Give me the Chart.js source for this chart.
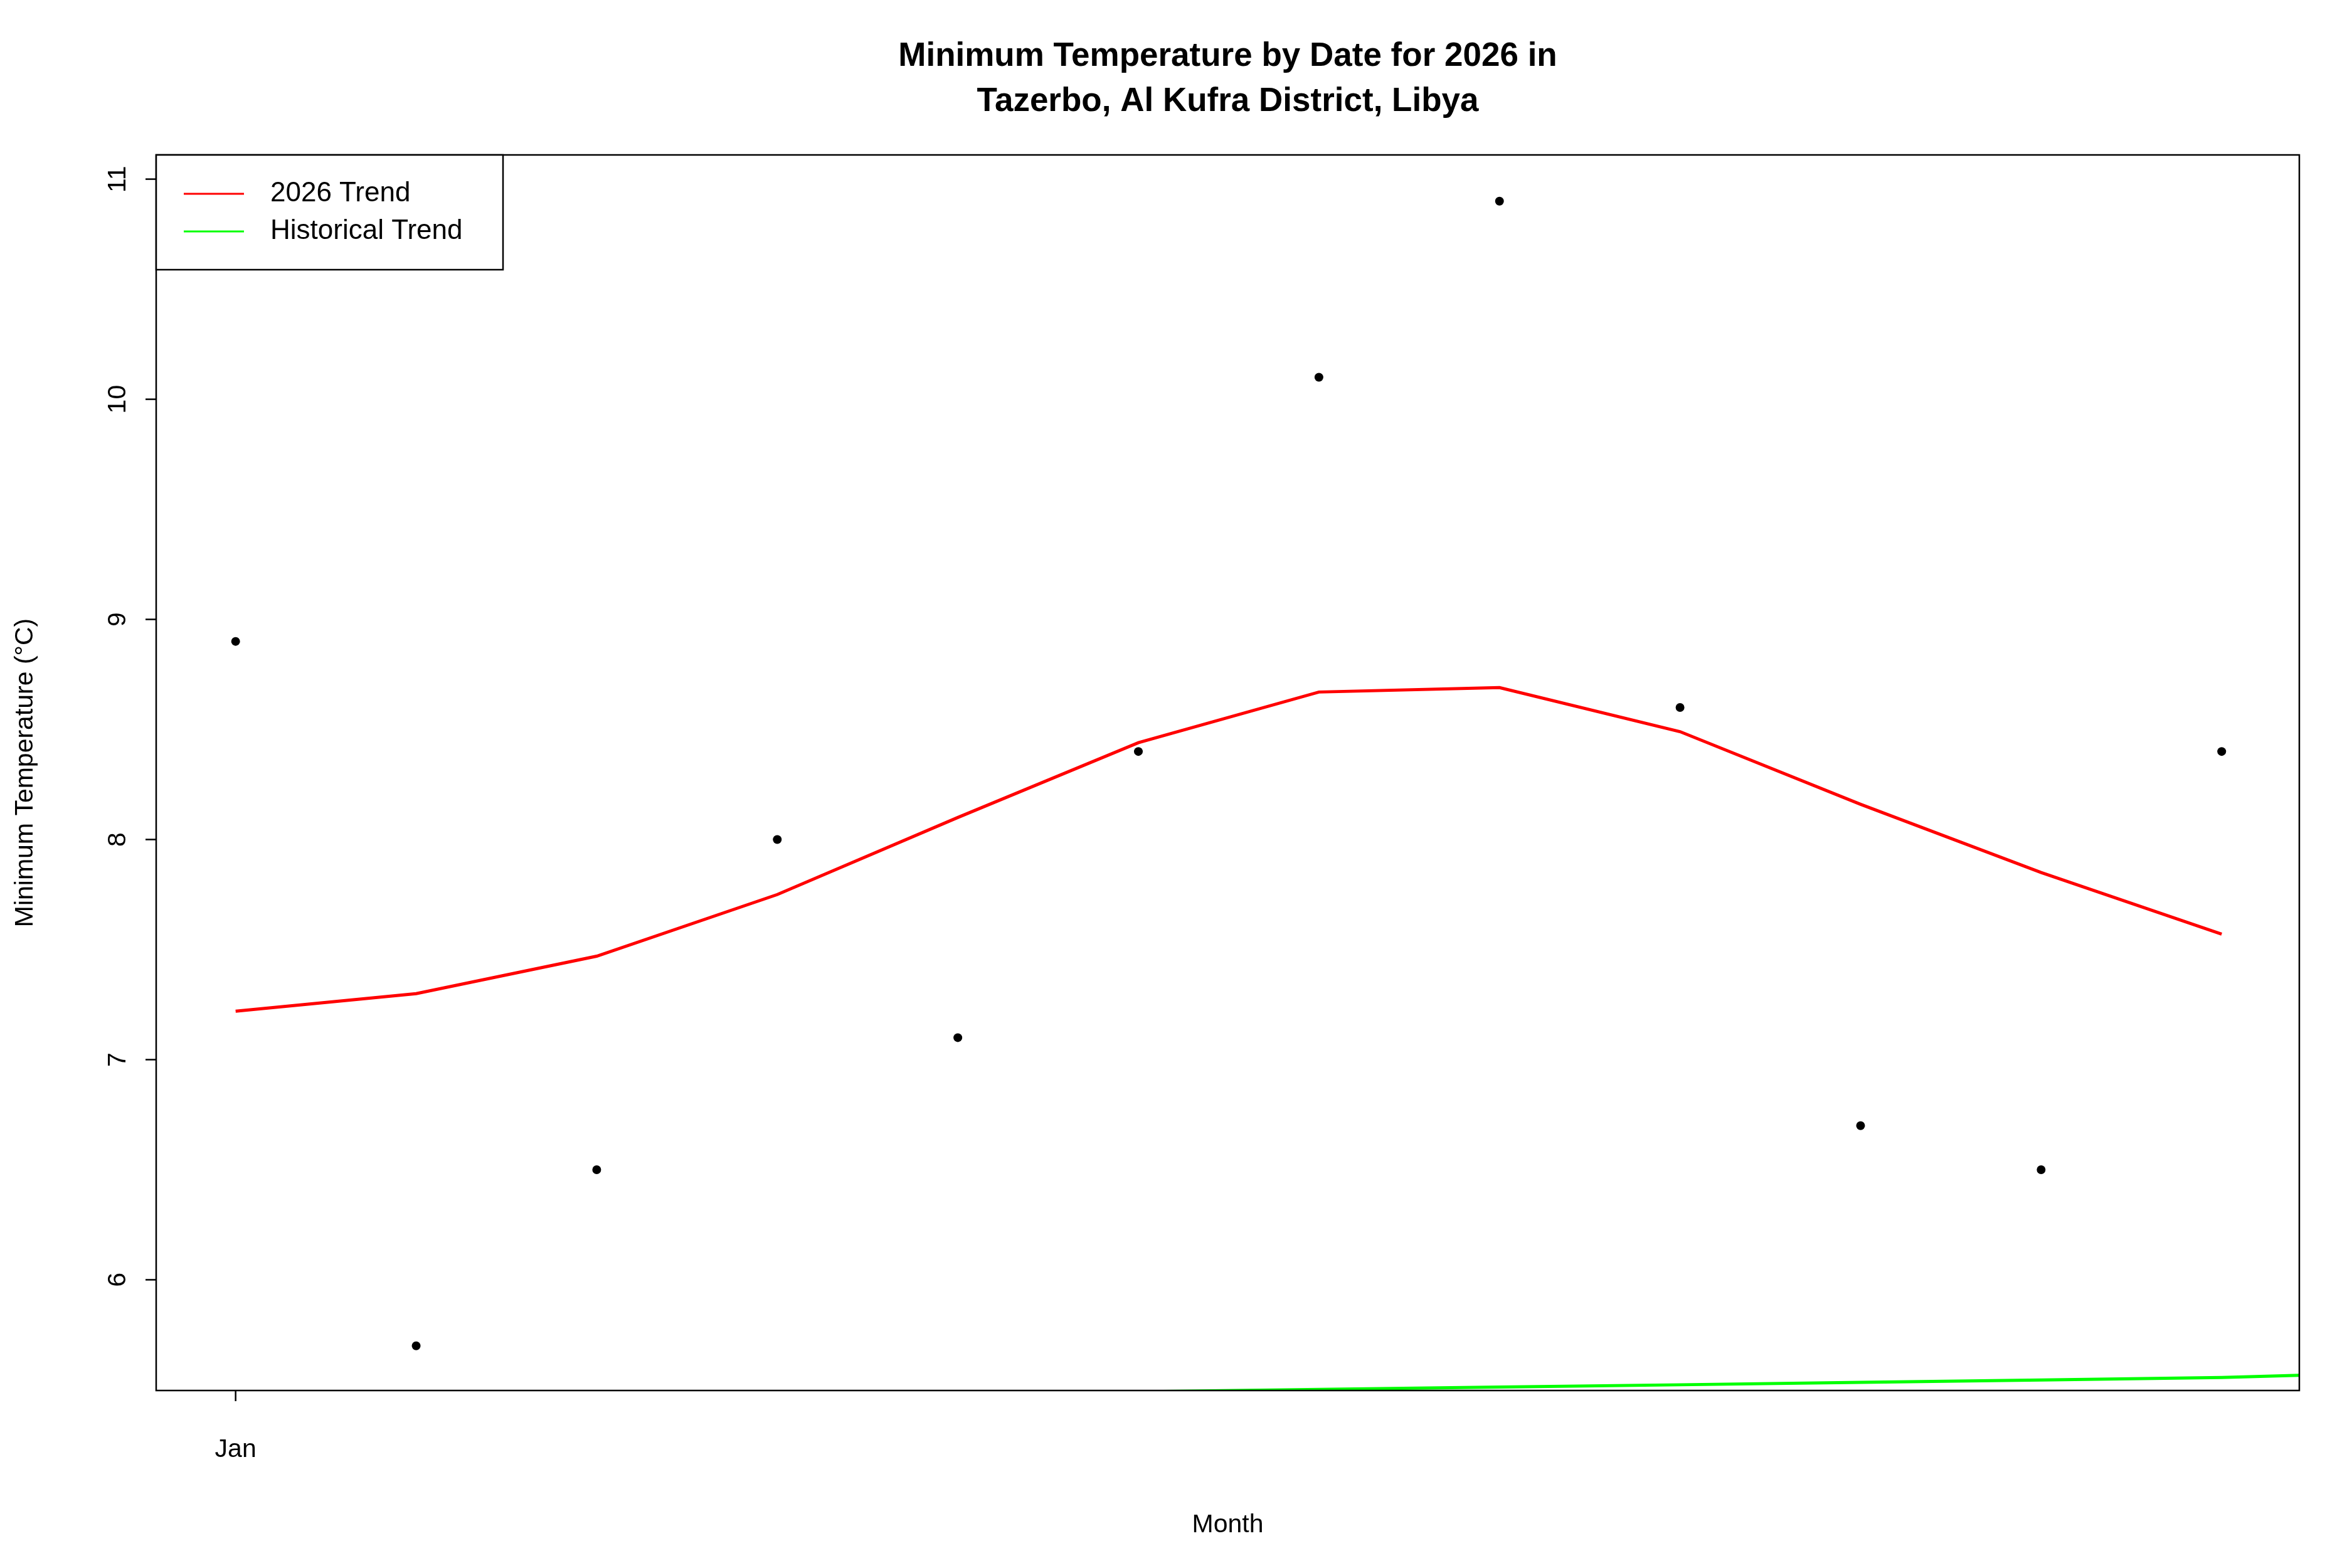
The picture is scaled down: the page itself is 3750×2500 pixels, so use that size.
<!DOCTYPE html>
<html>
<head>
<meta charset="utf-8">
<script src="https://cdn.jsdelivr.net/npm/chart.js@4/dist/chart.umd.min.js"></script>
<style>
  html, body { margin: 0; padding: 0; background: #fff; }
  #wrap { width: 3750px; height: 2500px; }
</style>
</head>
<body>
<div id="wrap"><canvas id="myChart" width="3750" height="2500"></canvas></div>
<script>
// month index (0 = Jan)
var months = [0, 1, 2, 3, 4, 5, 6, 7, 8, 9, 10, 11];
var minTemps = [8.9, 5.7, 6.5, 8.0, 7.1, 8.4, 10.1, 10.9, 8.6, 6.7, 6.5, 8.4];
var trend2026 = [7.22, 7.30, 7.47, 7.75, 8.10, 8.44, 8.67, 8.69, 8.49, 8.16, 7.85, 7.57];
var histX = [4.87, 6, 7, 8, 9, 10, 11, 11.43];
var histTrend = [5.49, 5.502, 5.513, 5.523, 5.534, 5.545, 5.556, 5.566];
var yTicks = [6, 7, 8, 9, 10, 11];
var xTickLabels = { 0: "Jan" };

var FONT = "Liberation Sans, Arial, sans-serif";

function pts(xs, ys) {
  return xs.map(function (x, i) { return { x: x, y: ys[i] }; });
}

var decor = {
  id: "decor",
  afterDraw(chart) {
    var ctx = chart.ctx;
    var a = chart.chartArea;
    var ys = chart.scales.y, xs = chart.scales.x;
    ctx.save();
    ctx.fillStyle = "#000";
    ctx.strokeStyle = "#000";
    ctx.lineWidth = 2.5;
    ctx.strokeRect(a.left, a.top, a.right - a.left, a.bottom - a.top);

    // title
    ctx.textAlign = "center";
    ctx.textBaseline = "middle";
    ctx.font = "bold 53px " + FONT;
    var cx = (a.left + a.right) / 2;
    ctx.fillText("Minimum Temperature by Date for 2026 in", cx, 90);
    ctx.fillText("Tazerbo, Al Kufra District, Libya", cx, 162);

    // y ticks, rotated labels
    ctx.font = "41px " + FONT;
    yTicks.forEach(function (v) {
      var py = ys.getPixelForValue(v);
      ctx.beginPath();
      ctx.moveTo(a.left, py);
      ctx.lineTo(a.left - 17, py);
      ctx.stroke();
      ctx.save();
      ctx.translate(a.left - 60, py);
      ctx.rotate(-Math.PI / 2);
      ctx.fillText(String(v), 0, 0);
      ctx.restore();
    });

    // x ticks
    Object.keys(xTickLabels).forEach(function (k) {
      var px = xs.getPixelForValue(Number(k));
      ctx.beginPath();
      ctx.moveTo(px, a.bottom);
      ctx.lineTo(px, a.bottom + 17);
      ctx.stroke();
      ctx.fillText(xTickLabels[k], px, a.bottom + 95);
    });

    // axis titles
    ctx.fillText("Month", cx, 2432);
    ctx.save();
    ctx.translate(41, (a.top + a.bottom) / 2);
    ctx.rotate(-Math.PI / 2);
    ctx.fillText("Minimum Temperature (\u00B0C)", 0, 0);
    ctx.restore();

    // legend box
    var lx = a.left, ly = a.top, lw = 553, lh = 183;
    ctx.fillStyle = "#fff";
    ctx.fillRect(lx, ly, lw, lh);
    ctx.strokeRect(lx, ly, lw, lh);
    ctx.textAlign = "left";
    ctx.fillStyle = "#000";
    ctx.font = "44px " + FONT;
    [["2026 Trend", "#ff0000", ly + 62], ["Historical Trend", "#00ff00", ly + 122]].forEach(function (it) {
      ctx.strokeStyle = it[1];
      ctx.lineWidth = 3;
      ctx.beginPath();
      ctx.moveTo(lx + 44, it[2]);
      ctx.lineTo(lx + 140, it[2]);
      ctx.stroke();
      ctx.fillText(it[0], lx + 182, it[2]);
    });
    ctx.restore();
  }
};

new Chart(document.getElementById("myChart"), {
  type: "scatter",
  data: {
    datasets: [
      {
        label: "Min temp",
        data: pts(months, minTemps),
        pointRadius: 7,
        pointBackgroundColor: "#000",
        pointBorderWidth: 0,
        showLine: false,
      },
      {
        label: "2026 Trend",
        data: pts(months, trend2026),
        showLine: true,
        borderColor: "#ff0000",
        borderWidth: 5,
        pointRadius: 0,
      },
      {
        label: "Historical Trend",
        data: pts(histX, histTrend),
        showLine: true,
        borderColor: "#00ff00",
        borderWidth: 5,
        pointRadius: 0,
      },
    ],
  },
  options: {
    responsive: false,
    animation: false,
    devicePixelRatio: 1,
    layout: { padding: { left: 0, right: 84, top: 247, bottom: 0 } },
    plugins: {
      legend: { display: false },
      tooltip: { enabled: false },
    },
    scales: {
      x: {
        type: "linear",
        min: -0.44,
        max: 11.43,
        grid: { display: false },
        border: { display: false },
        ticks: { display: false },
        afterFit: function (s) { s.height = 283; },
      },
      y: {
        min: 5.497,
        max: 11.11,
        grid: { display: false },
        border: { display: false },
        ticks: { display: false },
        afterFit: function (s) { s.width = 249; },
      },
    },
  },
  plugins: [decor],
});
</script>
</body>
</html>
